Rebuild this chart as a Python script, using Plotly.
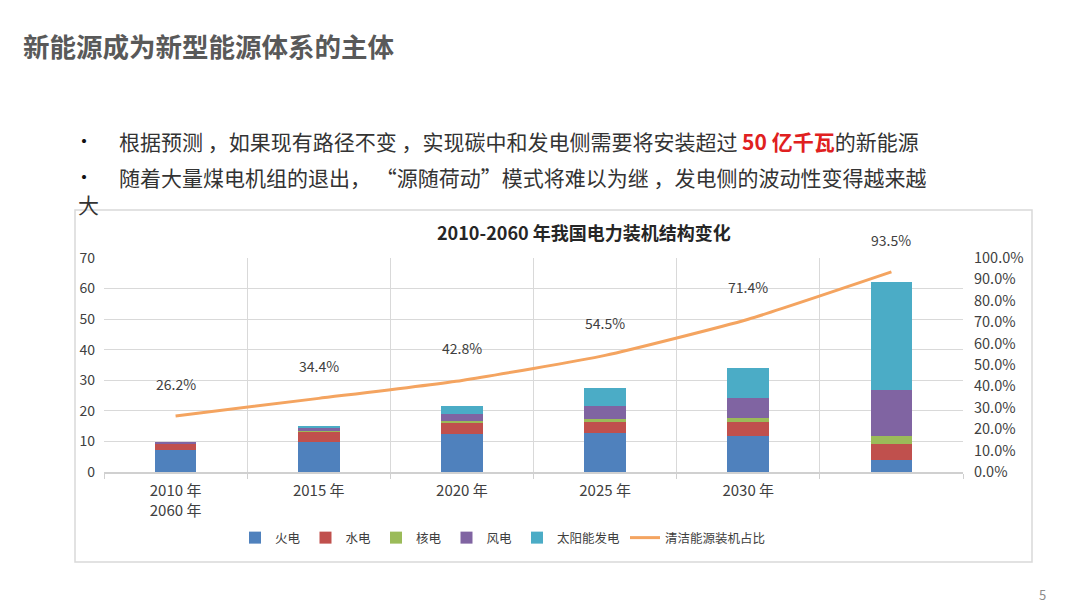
import plotly.graph_objects as go
from plotly.subplots import make_subplots

# ─── Data (亿千瓦) ────────────────────────────────────────────────────────────
years = ["2010 年", "2015 年", "2020 年", "2025 年", "2030 年", "2060 年"]
tick_labels = ["2010 年<br>2060 年", "2015 年", "2020 年", "2025 年", "2030 年", ""]

thermal = [7.1, 9.9, 12.3, 12.6, 11.9, 3.9]
hydro = [2.2, 3.2, 3.8, 3.9, 4.5, 5.1]
nuclear = [0.1, 0.3, 0.5, 0.8, 1.2, 2.9]
wind = [0.3, 1.3, 2.4, 4.2, 6.5, 15.0]
solar = [0.0, 0.4, 2.6, 6.1, 10.0, 35.1]
clean_share = [0.262, 0.344, 0.428, 0.545, 0.714, 0.935]

SERIES = [
    ("火电", thermal, "#4f81bd"),
    ("水电", hydro, "#c0504d"),
    ("核电", nuclear, "#9bbb59"),
    ("风电", wind, "#8064a2"),
    ("太阳能发电", solar, "#4bacc6"),
]

FONT = "Noto Sans CJK SC"
TEXT = "#404040"

# page is 1080x608, the html body adds an 8px margin top/left
OFF = 8
# plot area in page pixels
PL, PR, PT, PB = 104, 963, 258, 472


def px(x):
    return (x - PL) / (PR - PL)


def py(y):
    return (PB - y) / (PB - PT)


fig = make_subplots(specs=[[{"secondary_y": True}]])

for name, vals, color in SERIES:
    fig.add_trace(
        go.Bar(x=years, y=vals, name=name, marker_color=color, marker_line_width=0),
        secondary_y=False,
    )

fig.add_trace(
    go.Scatter(
        x=years, y=clean_share, name="清洁能源装机占比", mode="lines",
        line=dict(color="#f4a460", width=3, shape="spline", smoothing=0.5),
    ),
    secondary_y=True,
)

# share labels above the line
for yr, v in zip(years, clean_share):
    fig.add_annotation(
        x=yr, y=v, xref="x", yref="y2", yshift=32, showarrow=False,
        text=f"{v:.1%}", font=dict(size=14, color=TEXT, family=FONT),
    )

# ── slide texts ──────────────────────────────────────────────────────────────
fig.add_annotation(
    x=px(21), y=py(46), xref="paper", yref="paper", xanchor="left", yanchor="middle",
    showarrow=False, text="<b>新能源成为新型能源体系的主体</b>",
    font=dict(size=26.5, color="#595959", family=FONT),
)
bullets = [
    (141, "根据预测 ，如果现有路径不变 ，实现碳中和发电侧需要将安装超过 "
          "<b><span style='color:#e02020'>50 亿千瓦</span></b>的新能源"),
    (177, "随着大量煤电机组的退出， “源随荷动”模式将难以为继 ，发电侧的波动性变得越来越"),
]
for y, txt in bullets:
    fig.add_annotation(
        x=px(74), y=py(y - 1), xref="paper", yref="paper", xanchor="left", yanchor="middle",
        showarrow=False, text="<b>•</b>", font=dict(size=16, color="#111", family=FONT),
    )
    fig.add_annotation(
        x=px(117), y=py(y), xref="paper", yref="paper", xanchor="left", yanchor="middle",
        showarrow=False, text=txt, font=dict(size=21, color="#333", family=FONT),
    )
fig.add_annotation(
    x=px(76), y=py(204), xref="paper", yref="paper", xanchor="left", yanchor="middle",
    showarrow=False, text="大", font=dict(size=21, color="#333", family=FONT),
)
fig.add_annotation(
    x=px(584), y=py(232), xref="paper", yref="paper", xanchor="center", yanchor="middle",
    showarrow=False, text="<b>2010-2060 年我国电力装机结构变化</b>",
    font=dict(size=18, color="#262626", family=FONT),
)
fig.add_annotation(
    x=px(1042), y=py(594), xref="paper", yref="paper", xanchor="center", yanchor="middle",
    showarrow=False, text="5", font=dict(size=13, color="#8c8c8c", family=FONT),
)

# chart container frame
fig.add_shape(
    type="rect", xref="paper", yref="paper", layer="below",
    x0=px(75), x1=px(1032), y0=py(562), y1=py(210),
    line=dict(color="#d9d9d9", width=1.5), fillcolor="white",
)

# ── Layout ───────────────────────────────────────────────────────────────────
fig.update_layout(
    width=1080 - OFF, height=608 - OFF,
    margin=dict(l=PL - OFF, r=1080 - PR, t=PT - OFF, b=608 - PB),
    barmode="stack", bargap=0.71,
    paper_bgcolor="white", plot_bgcolor="#f2f2f2",
    font=dict(family=FONT, color=TEXT, size=13),
    showlegend=True,
    legend=dict(
        orientation="h", x=px(503), y=py(538), xanchor="center", yanchor="middle",
        font=dict(size=12.5, color=TEXT), itemwidth=30, traceorder="normal",
    ),
)
fig.update_xaxes(
    domain=[0, 1],
    type="category", tickmode="array", tickvals=years, ticktext=tick_labels,
    tickson="boundaries", ticks="outside", ticklen=5, tickcolor="#d0d0d0",
    showgrid=True, gridcolor="#d9d9d9", gridwidth=1,
    showline=True, linecolor="#d0d0d0", linewidth=2,
    tickfont=dict(size=15, color=TEXT), ticklabelstandoff=4,
)
fig.update_yaxes(
    range=[0, 70], dtick=10, showgrid=True, gridcolor="#d9d9d9", gridwidth=1,
    zeroline=False, ticks="", tickfont=dict(size=14, color=TEXT),
    ticklabelstandoff=8, secondary_y=False,
)
fig.update_yaxes(
    range=[0, 1], dtick=0.1, tickformat=".1%", showgrid=False, zeroline=False,
    ticks="", tickfont=dict(size=14.5, color=TEXT), ticklabelstandoff=10,
    secondary_y=True,
)

fig.write_html("out.html")
